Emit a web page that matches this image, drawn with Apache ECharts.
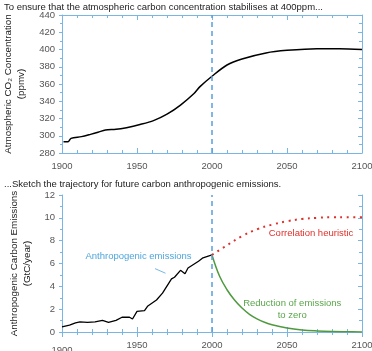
<!DOCTYPE html>
<html><head><meta charset="utf-8">
<script src="https://cdn.jsdelivr.net/npm/echarts@6/dist/echarts.min.js"></script>
<style>html,body{margin:0;padding:0;background:#fff}#c{width:372px;height:351px}</style>
</head><body><div id="c"></div>
<script>
// Top panel: atmospheric CO2 concentration (ppmv)
const co2Years = [1901,1904,1906,1913,1919,1924,1929,1936,1943,1952,1961,1970,1979,1988,1992,2000,2010,2020,2036,2050,2070,2085,2100];
const co2Values = [293,293,297,299,301.6,304,306.7,307.4,309.4,313,317.5,325,335.6,349,357,369,382,389,396,399,401,401,400];
// Bottom panel: historical anthropogenic emissions (GtC/year)
const emisYears = [1900,1905,1909,1912,1917,1922,1927,1931,1936,1940,1945,1947,1950,1955,1957,1963,1967,1973,1975,1979,1982,1984,1991,1994,2000];
const emisValues = [0.44,0.6,0.79,0.88,0.85,0.88,1.02,0.85,1.02,1.29,1.29,1.14,1.8,1.87,2.25,2.8,3.4,4.65,4.8,5.4,5.1,5.6,6.2,6.5,6.75];
// Future scenarios
const heurYears = [2000,2010,2020,2030,2040,2050,2060,2070,2080,2090,2100];
const heurValues = [6.75,7.6,8.4,9.0,9.4,9.7,9.9,10.0,10.05,10.05,10.05];
const redYears = [2000,2005,2010,2015,2020,2025,2030,2035,2040,2050,2060,2070,2080,2090,2100];
const redValues = [6.75,4.9,3.7,2.8,2.1,1.55,1.15,0.85,0.63,0.35,0.18,0.09,0.04,0.02,0.01];
// Axes
const xMin = 1900, xMax = 2100, xStep = 50;
const co2Min = 280, co2Max = 440, co2Step = 20;
const emMin = 0, emMax = 12, emStep = 2;
const markYear = 2000;
// Texts
const title1 = 'To ensure that the atmospheric carbon concentration stabilises at 400ppm...';
const title2 = '...Sketch the trajectory for future carbon anthropogenic emissions.';
const yName1 = 'Atmospheric CO\u2082 Concentration\n(ppmv)';
const yName2 = 'Anthropogenic Carbon Emissions\n(GtC/year)';
const noteEmis = 'Anthropogenic emissions';
const noteHeur = 'Correlation heuristic';
const noteRed = 'Reduction of emissions\nto zero';

const zip = (a, b) => a.map((v, i) => [v, b[i]]);
const AX = '#7ab6e4';
const FONT = 'Liberation Sans';
const TXT = '#555';

function xAxes(gi) {
  return [
    { gridIndex: gi, type: 'value', min: xMin, max: xMax, interval: xStep, position: 'bottom',
      axisLine: { lineStyle: { color: AX } },
      axisTick: { inside: true, length: 5, lineStyle: { color: AX } },
      minorTick: { show: true, splitNumber: 5, length: 3, lineStyle: { color: AX } },
      splitLine: { show: false },
      axisLabel: { color: TXT, fontSize: 9.5, fontFamily: FONT, margin: 8,
        formatter: v => (gi === 1 && v === xMin) ? '{low|' + v + '}' : String(v),
        rich: { low: { color: TXT, fontSize: 9.5, fontFamily: FONT, padding: [5, 0, 0, 0] } } } },
    { gridIndex: gi, type: 'value', min: xMin, max: xMax, interval: xStep, position: 'top',
      axisLine: { lineStyle: { color: AX } },
      axisTick: { inside: true, length: 5, lineStyle: { color: AX } },
      minorTick: { show: true, splitNumber: 5, length: 3, lineStyle: { color: AX } },
      splitLine: { show: false }, axisLabel: { show: false } }
  ];
}
function yAxes(gi, mn, mx, st, name) {
  return [
    { gridIndex: gi, type: 'value', min: mn, max: mx, interval: st, position: 'left',
      name: name, nameLocation: 'middle', nameGap: 26,
      nameTextStyle: { color: '#222', fontSize: 9.8, fontFamily: FONT, lineHeight: 13 },
      axisLine: { show: true, lineStyle: { color: AX } },
      axisTick: { show: true, inside: false, length: 3, lineStyle: { color: AX } },
      minorTick: { show: true, splitNumber: 2, length: 2, lineStyle: { color: AX } },
      splitLine: { show: false },
      axisLabel: { color: TXT, fontSize: 9.5, fontFamily: FONT, margin: 7 } },
    { gridIndex: gi, type: 'value', min: mn, max: mx, interval: st, position: 'right',
      axisLine: { show: true, lineStyle: { color: AX } },
      axisTick: { show: true, inside: true, length: 4, lineStyle: { color: AX } },
      minorTick: { show: true, splitNumber: 2, length: 3, lineStyle: { color: AX } },
      splitLine: { show: false }, axisLabel: { show: false } }
  ];
}
const dashLine = {
  silent: true, symbol: 'none', label: { show: false },
  lineStyle: { color: '#5a9fdb', type: [5, 4], width: 1.5 },
  data: [{ xAxis: markYear }]
};
function note(coord, text, color) {
  return { coord: coord, symbol: 'rect', symbolSize: 0,
    label: { show: true, position: 'inside', formatter: text, color: color,
      fontSize: 9.5, fontFamily: FONT, lineHeight: 12, align: 'center' } };
}

const chart = echarts.init(document.getElementById('c'), null, { renderer: 'canvas' });
chart.setOption({
  animation: false,
  backgroundColor: '#fff',
  title: [
    { text: title1, left: -1, top: -3, textStyle: { fontSize: 9.5, fontWeight: 'normal', color: '#222', fontFamily: FONT } },
    { text: title2, left: -1, top: 174, textStyle: { fontSize: 9.5, fontWeight: 'normal', color: '#222', fontFamily: FONT } }
  ],
  grid: [
    { left: 62, width: 300, top: 15, height: 138, containLabel: false, outerBoundsMode: 'none' },
    { left: 62, width: 300, top: 195, height: 137, containLabel: false, outerBoundsMode: 'none' }
  ],
  xAxis: [...xAxes(0), ...xAxes(1)],
  yAxis: [...yAxes(0, co2Min, co2Max, co2Step, yName1), ...yAxes(1, emMin, emMax, emStep, yName2)],
  series: [
    { type: 'line', xAxisIndex: 0, yAxisIndex: 0, data: zip(co2Years, co2Values), showSymbol: false,
      smooth: 0.3, lineStyle: { color: '#000', width: 1.5 }, markLine: dashLine },
    { type: 'line', xAxisIndex: 2, yAxisIndex: 2, data: zip(emisYears, emisValues), showSymbol: false,
      lineStyle: { color: '#000', width: 1.3 }, markLine: dashLine,
      markPoint: { data: [note([1951, 6.63], noteEmis, '#4ea6dc')] } },
    { type: 'line', xAxisIndex: 2, yAxisIndex: 2, data: [[1962, 5.55], [1969, 5.15]], showSymbol: false,
      silent: true, lineStyle: { color: '#4ea6dc', width: 0.8 } },
    { type: 'line', xAxisIndex: 2, yAxisIndex: 2, data: zip(heurYears, heurValues), showSymbol: false,
      smooth: 0.4, lineStyle: { color: '#e0302a', width: 2, type: [2, 4.5] },
      markPoint: { data: [note([2066, 8.6], noteHeur, '#e0302a')] } },
    { type: 'line', xAxisIndex: 2, yAxisIndex: 2, data: zip(redYears, redValues), showSymbol: false,
      smooth: 0.4, lineStyle: { color: '#4f9a3f', width: 1.5 },
      markPoint: { data: [note([2053.5, 2.0], noteRed, '#5aa54a')] } }
  ]
});
</script></body></html>
